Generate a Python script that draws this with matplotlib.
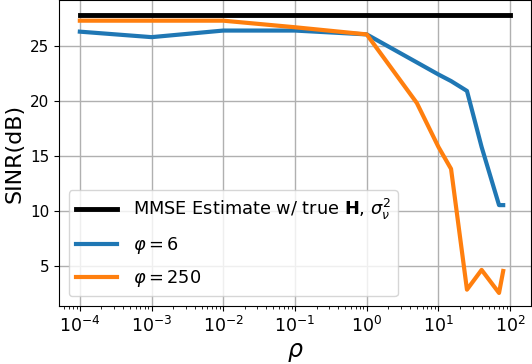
import matplotlib
matplotlib.use("Agg")
import matplotlib.pyplot as plt
from matplotlib.ticker import LogLocator, NullFormatter
import numpy as np

# rho values (x axis) and SINR in dB
rho = [1e-4, 1e-3, 1e-2, 1e-1, 1, 5, 10, 15, 25, 40, 70, 80]
sinr_phi6 = [26.3, 25.8, 26.4, 26.4, 26.05, 23.5, 22.4, 21.8, 20.9, 15.8, 10.5, 10.5]
sinr_phi250 = [27.3, 27.3, 27.3, 26.7, 26.05, 19.8, 15.8, 13.8, 2.8, 4.6, 2.5, 4.5]
mmse_rho = [1e-4, 1e2]
mmse_sinr = [27.85, 27.85]

x_ticks = [1e-4, 1e-3, 1e-2, 1e-1, 1e0, 1e1, 1e2]
x_ticklabels = [r'$10^{-4}$', r'$10^{-3}$', r'$10^{-2}$', r'$10^{-1}$',
                r'$10^{0}$', r'$10^{1}$', r'$10^{2}$']
y_ticks = [5, 10, 15, 20, 25]

labels = [r'MMSE Estimate w/ true $\mathbf{H}$, $\sigma_\nu^2$',
          r'$\varphi=6$', r'$\varphi=250$']

fig = plt.figure(figsize=(5.32, 3.64), dpi=100)
ax = fig.add_axes([0.111, 0.159, 0.887, 0.840])

ax.plot(mmse_rho, mmse_sinr, color='black', linewidth=3.5, label=labels[0])
ax.plot(rho, sinr_phi6, color='tab:blue', linewidth=3, label=labels[1])
ax.plot(rho, sinr_phi250, color='tab:orange', linewidth=3, label=labels[2])

ax.set_xscale('log')
ax.set_xlim(10 ** -4.29, 10 ** 2.29)
ax.set_ylim(1.3, 29.15)
ax.set_xticks(x_ticks)
ax.set_xticklabels(x_ticklabels)
ax.set_yticks(y_ticks)
ax.xaxis.set_minor_locator(LogLocator(base=10, subs=np.arange(2, 10), numticks=100))
ax.xaxis.set_minor_formatter(NullFormatter())
ax.tick_params(axis='x', labelsize=12.5)
ax.tick_params(axis='y', labelsize=11)
ax.grid(True, which='major', color='#b0b0b0', linewidth=1)

ax.set_xlabel(r'$\rho$', fontsize=17, labelpad=3)
ax.set_ylabel('SINR(dB)', fontsize=16)

ax.legend(loc='lower left', fontsize=12.8, handlelength=2.3,
          handletextpad=0.9, labelspacing=0.7, borderaxespad=0.55)

fig.savefig('out.png', dpi=100)
